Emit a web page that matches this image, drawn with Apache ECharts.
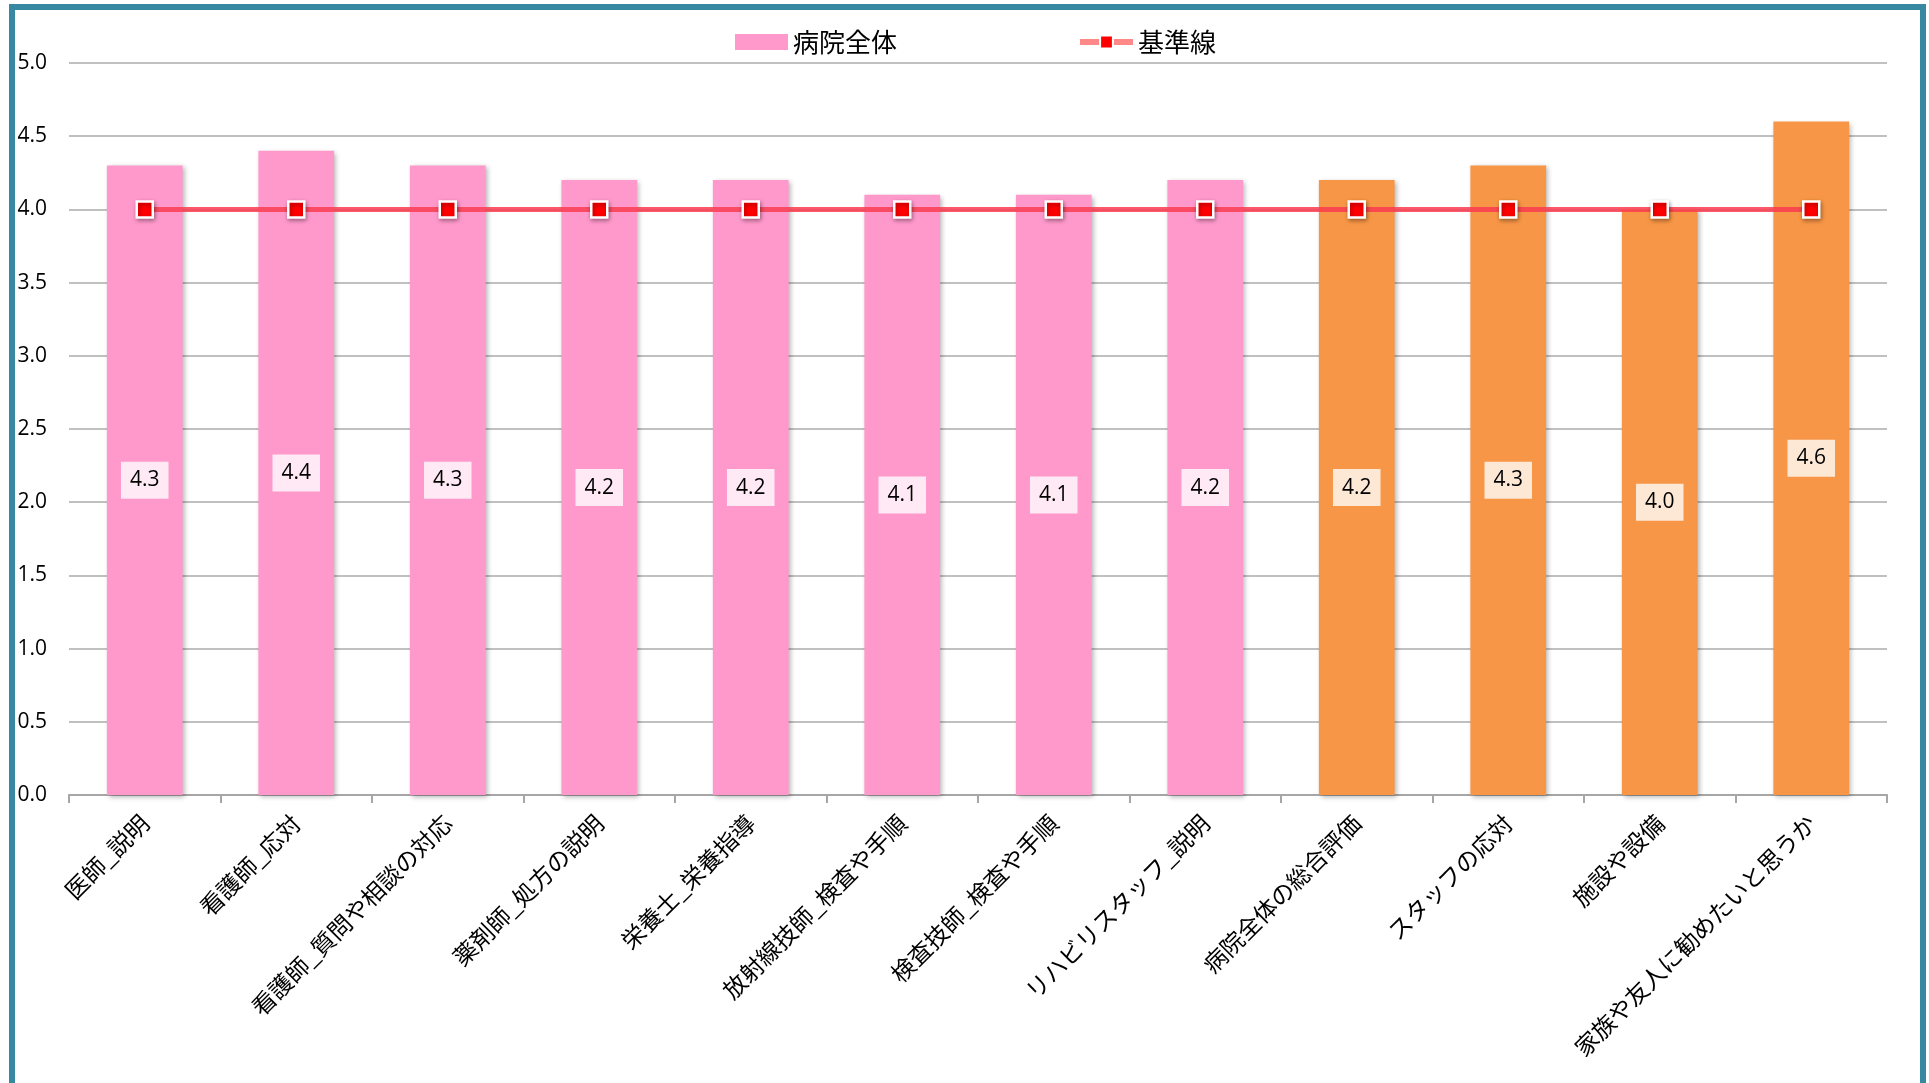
<!DOCTYPE html>
<html>
<head>
<meta charset="utf-8">
<script src="https://cdn.jsdelivr.net/npm/echarts@6/dist/echarts.min.js"></script>
<style>
html,body{margin:0;padding:0;background:#fff;}
#c{width:1929px;height:1083px;}
</style>
</head>
<body>
<div id="c"></div>
<script>
const categories = ['医師_説明','看護師_応対','看護師_質問や相談の対応','薬剤師_処方の説明','栄養士_栄養指導','放射線技師_検査や手順','検査技師_検査や手順','リハビリスタッフ_説明','病院全体の総合評価','スタッフの応対','施設や設備','家族や友人に勧めたいと思うか'];
const hospitalValues = [4.3,4.4,4.3,4.2,4.2,4.1,4.1,4.2,4.2,4.3,4.0,4.6];
const baselineValues = [4.0,4.0,4.0,4.0,4.0,4.0,4.0,4.0,4.0,4.0,4.0,4.0];
const yTicks = [0,0.5,1.0,1.5,2.0,2.5,3.0,3.5,4.0,4.5,5.0];
const pinkCount = 8;
const PINK = '#FF99CC', ORANGE = '#F79646';

const chart = echarts.init(document.getElementById('c'));
const jp = '"Noto Sans CJK JP", "Noto Sans", sans-serif';
chart.setOption({
  backgroundColor: '#fff',
  animation: false,
  graphic: [{
    type: 'rect', z: 100,
    shape: {x: 12, y: 7, width: 1911, height: 1200},
    style: {fill: 'none', stroke: '#3689A0', lineWidth: 6}
  }],
  legend: {
    top: 24, left: 730, itemGap: 180,
    textStyle: {fontFamily: jp, fontSize: 26, color: '#000'},
    data: [
      {name: '病院全体', icon: 'rect', itemStyle: {color: PINK}},
      {name: '基準線', lineStyle: {color: '#FF8888', width: 6}}
    ],
    itemWidth: 53, itemHeight: 16
  },
  grid: {left: 69, right: 42, top: 63, bottom: 288, containLabel: false},
  xAxis: {
    type: 'category', data: categories,
    axisLine: {lineStyle: {color: '#A6A6A6', width: 2}},
    axisTick: {show: true, length: 8, lineStyle: {color: '#A6A6A6', width: 2}},
    axisLabel: {rotate: 45, margin: 24, interval: 0, fontFamily: jp, fontSize: 23.5, color: '#000'}
  },
  yAxis: {
    type: 'value', min: 0, max: 5, interval: 0.5,
    axisLine: {show: false}, axisTick: {show: false},
    splitLine: {lineStyle: {color: '#C0C0C0', width: 2}},
    axisLabel: {
      margin: 22, fontSize: 21, color: '#000', fontFamily: '"Open Sans", sans-serif',
      formatter: v => yTicks.includes(+v.toFixed(1)) ? v.toFixed(1) : ''
    }
  },
  series: [
    {
      name: '病院全体', type: 'bar', barWidth: '50%',
      data: hospitalValues.map((v, i) => ({value: v, itemStyle: {color: i < pinkCount ? PINK : ORANGE}})),
      itemStyle: {shadowColor: 'rgba(0,0,0,0.3)', shadowBlur: 5, shadowOffsetX: 2, shadowOffsetY: 2},
      label: {
        show: true, position: 'inside', formatter: p => p.value.toFixed(1),
        fontSize: 21, color: '#000', fontFamily: '"Open Sans", sans-serif',
        backgroundColor: 'rgba(255,255,255,0.78)', padding: [8, 9, 8, 9]
      }
    },
    {
      name: '基準線', type: 'line', data: baselineValues, z: 5,
      lineStyle: {color: 'rgba(250,60,80,0.85)', width: 5},
      symbol: 'rect', symbolSize: 16,
      itemStyle: {color: '#FF0000', borderColor: '#fff', borderWidth: 2.5, shadowColor: 'rgba(0,0,0,0.35)', shadowBlur: 4, shadowOffsetX: 1, shadowOffsetY: 2}
    }
  ]
});
</script>
</body>
</html>
